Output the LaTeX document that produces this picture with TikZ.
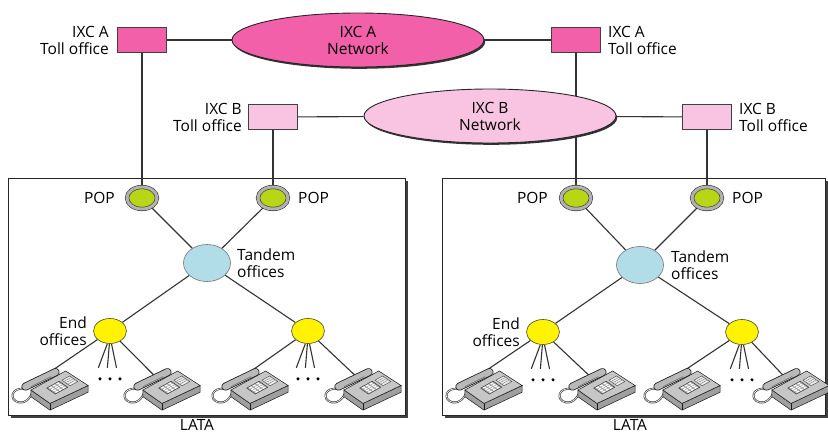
\documentclass[tikz,border=0pt]{standalone}
\usepackage{fontspec}
\setmainfont{Open Sans}
\usetikzlibrary{shapes.geometric,shadows,backgrounds}

\definecolor{ixcapink}{RGB}{242,96,170}
\definecolor{ixcbpink}{RGB}{249,196,226}
\definecolor{popgreen}{RGB}{184,214,22}
\definecolor{tandemblue}{RGB}{176,221,231}
\definecolor{endyellow}{RGB}{255,243,0}

\tikzset{
  wire/.style={draw=black!80, line width=1.1pt},
  txt/.style={font=\fontsize{15.5}{17}\selectfont, inner sep=1pt},
  toll/.style={draw=black!75, line width=1pt, minimum width=49, minimum height=25, inner sep=0},
  network/.style={ellipse, draw=black!85, line width=0.9pt, minimum width=252, minimum height=54,
    inner sep=0, align=center, txt,
    drop shadow={shadow xshift=1.2pt, shadow yshift=-1.8pt, opacity=1, fill=black!80}},
  pop/.style={ellipse, draw=black!80, line width=0.6pt, double=gray!60, double distance=3pt,
    fill=popgreen, minimum width=30, minimum height=22, inner sep=0},
  tandem/.style={ellipse, draw=black!55, line width=0.6pt, fill=tandemblue, minimum width=47, minimum height=37},
  endoff/.style={ellipse, draw=black!60!olive, line width=0.6pt, fill=endyellow, minimum width=33, minimum height=25},
  lata/.style={draw=black!85, line width=1pt, fill=white, minimum height=237, inner sep=0,
    drop shadow={shadow xshift=2.5pt, shadow yshift=-2.5pt, opacity=1, fill=black!75}},
  phone/.pic={
    % coiled cord
    \draw[black!80, line width=1.9pt] (-22,-1) .. controls (-35,-3) and (-37,9) .. (-28,11)
      .. controls (-21,12) and (-18,7) .. (-16,3);
    \draw[white, line width=0.6pt] (-22,-1) .. controls (-35,-3) and (-37,9) .. (-28,11)
      .. controls (-21,12) and (-18,7) .. (-16,3);
    % body
    \filldraw[fill=gray!75, draw=black!90, line width=0.5pt] (-17,0) -- (0,12) -- (34,-4) -- (34,2) -- (0,18) -- (-17,6) -- cycle;
    \draw[black!90, line width=0.5pt] (0,12) -- (0,18);
    \filldraw[fill=gray!45, draw=black!90, line width=0.5pt] (-17,0) -- (0,12) -- (34,-4) -- (14,-17) -- cycle;
    \begin{scope}[shift={(-17,0)}, x={(17pt,-12pt)}, y={(31pt,17pt)}]
      % keypad
      \filldraw[fill=gray!80, draw=black!80, line width=0.4pt] (0.28,0.3) -- ++(0.45,0) -- ++(0,0.36) -- ++(-0.45,0) -- cycle;
      \foreach \i in {0,1,2,3} \foreach \j in {0,1,2}
        \fill[white] (0.31+0.105*\i,0.34+0.105*\j) -- ++(0.07,0) -- ++(0,0.075) -- ++(-0.07,0) -- cycle;
      % key panel
      \filldraw[fill=gray!15, draw=black!75, line width=0.4pt] (0.3,0.73) -- ++(0.42,0) -- ++(0,0.22) -- ++(-0.42,0) -- cycle;
      \foreach \i in {0.4,0.5,0.6} \draw[black!60, line width=0.3pt] (\i,0.75) -- ++(0,0.18);
    \end{scope}
    % handset
    \draw[black!90, line width=8pt, line cap=round] (-22,-3) -- (5,-16);
    \draw[gray!55, line width=6.4pt, line cap=round] (-22,-3) -- (5,-16);
    \draw[black!70, line width=0.4pt] (-17,-3) -- (1,-12);
    \coordinate (-jack) at (-6,-12);
  }
}

\begin{document}
\begin{tikzpicture}[x=1pt,y=-1pt]
  \useasboundingbox (0,0) rectangle (828,434);

  % carriers
  \node[toll, fill=ixcapink] (tollAL) at (142,40) {};
  \node[toll, fill=ixcapink] (tollAR) at (576,40) {};
  \node[toll, fill=ixcbpink] (tollBL) at (273,117) {};
  \node[toll, fill=ixcbpink] (tollBR) at (707,117) {};
  \node[network, fill=ixcapink] (ixcA) at (358,40) {IXC A\\Network};
  \node[network, fill=ixcbpink] (ixcB) at (490,116) {IXC B\\Network};
  \node[txt, anchor=east, align=right] (tollALtxt) at (110,40) {IXC A\\Toll office};
  \node[txt, anchor=west, align=left] (tollARtxt) at (607,40) {IXC A\\Toll office};
  \node[txt, anchor=east, align=right] (tollBLtxt) at (243,117) {IXC B\\Toll office};
  \node[txt, anchor=west, align=left] (tollBRtxt) at (738,117) {IXC B\\Toll office};

  % left LATA
  \node[pop] (popL1) at (142,198) {};
  \node[pop] (popL2) at (273,198) {};
  \node[tandem] (tanL) at (207,263) {};
  \node[endoff] (eoL1) at (110,331) {};
  \node[endoff] (eoL2) at (308,331) {};
  \node[txt, anchor=east] (popL1txt) at (116,198) {POP};
  \node[txt, anchor=west] (popL2txt) at (297,198) {POP};
  \node[txt, anchor=west, align=left] (tanLtxt) at (236,263) {Tandem\\offices};
  \node[txt, anchor=east, align=right] (eoLtxt) at (88,331) {End\\offices};
  \node[txt] (lataLtxt) at (197,425) {LATA};
  \pic[scale=1.12] (phL1) at (50,390) {phone};
  \pic[scale=1.12] (phL2) at (162,390) {phone};
  \pic[scale=1.12] (phL3) at (250,390) {phone};
  \pic[scale=1.12] (phL4) at (363,390) {phone};

  % right LATA
  \node[pop] (popR1) at (576,198) {};
  \node[pop] (popR2) at (707,198) {};
  \node[tandem] (tanR) at (640,265) {};
  \node[endoff] (eoR1) at (543,332) {};
  \node[endoff] (eoR2) at (742,332) {};
  \node[txt, anchor=east] (popR1txt) at (549,198) {POP};
  \node[txt, anchor=west] (popR2txt) at (731,198) {POP};
  \node[txt, anchor=west, align=left] (tanRtxt) at (670,265) {Tandem\\offices};
  \node[txt, anchor=east, align=right] (eoRtxt) at (521,332) {End\\offices};
  \node[txt] (lataRtxt) at (630,425) {LATA};
  \pic[scale=1.12] (phR1) at (484,390) {phone};
  \pic[scale=1.12] (phR2) at (597,390) {phone};
  \pic[scale=1.12] (phR3) at (682,390) {phone};
  \pic[scale=1.12] (phR4) at (791,390) {phone};

  \begin{scope}[on background layer]
    \node[lata, minimum width=397] (lataL) at (206.5,296.5) {};
    \node[lata, minimum width=383] (lataR) at (633.5,296.5) {};
    \draw[wire] (tollAL) -- (ixcA) -- (tollAR);
    \draw[wire] (tollBL) -- (ixcB) -- (tollBR);
    \draw[wire] (tollAL) -- (popL1);
    \draw[wire] (tollBL) -- (popL2);
    \draw[wire] (tollAR) -- (popR1);
    \draw[wire] (tollBR) -- (popR2);
    \foreach \s in {L,R} {
      \draw[wire] (pop\s1) -- (tan\s) -- (pop\s2);
      \draw[wire] (eo\s1) -- (tan\s) -- (eo\s2);
      \draw[wire] (ph\s1-jack) -- (eo\s1) -- (ph\s2-jack);
      \draw[wire] (ph\s3-jack) -- (eo\s2) -- (ph\s4-jack);
    }
    % lines to the other sets
    \foreach \e in {eoL1,eoL2,eoR1,eoR2} {
      \foreach \dx in {-9,-2,5}
        \draw[wire] ([xshift=0.3*\dx]\e.south) -- ++(\dx,24);
      \foreach \dx in {-10,0,10}
        \fill[black] (\e.south) ++(\dx,35) circle (1.7);
    }
  \end{scope}
\end{tikzpicture}
\end{document}
